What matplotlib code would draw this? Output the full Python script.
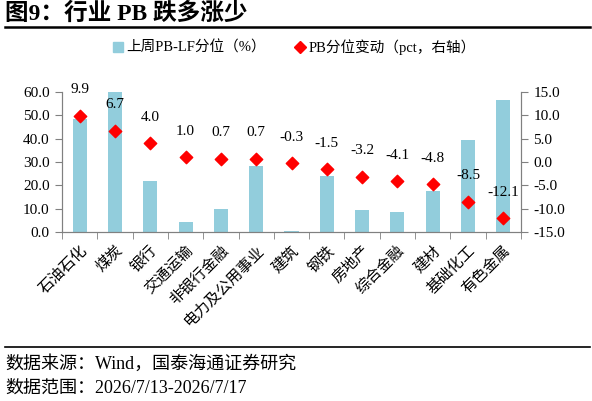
import matplotlib.pyplot as plt
from matplotlib.lines import Line2D
import numpy as np

plt.rcParams['font.family'] = ['Liberation Serif', 'Noto Sans CJK SC']

# Data
industries = ['石油石化', '煤炭', '银行', '交通运输', '非银行金融', '电力及公用事业', '建筑',
              '钢铁', '房地产', '综合金融', '建材', '基础化工', '有色金属']
pb_pct = [48.4, 60.0, 21.8, 4.4, 9.9, 28.5, 0.3, 24.2, 9.3, 8.7, 17.5, 39.4, 56.7]
pb_change = [9.9, 6.7, 4.0, 1.0, 0.7, 0.7, -0.3, -1.5, -3.2, -4.1, -4.8, -8.5, -12.1]

bar_color = '#92CDDC'
axis_color = '#808080'

fig = plt.figure(figsize=(5.92, 4.01), dpi=100)
ax = fig.add_axes([62 / 592, 1 - 232 / 401, (521 - 62) / 592, 140 / 401])
ax2 = ax.twinx()

x = np.arange(len(industries))
ax.bar(x, pb_pct, width=0.4, color=bar_color, zorder=2)
ax2.scatter(x, pb_change, marker='D', s=40, color='#FF0000', zorder=3)
for xi, v in zip(x, pb_change):
    ax2.annotate(f'{v:.1f}', (xi, v), xytext=(0, 14), textcoords='offset points',
                 ha='center', va='bottom', fontsize=11)

ax.set_xlim(-0.5, len(industries) - 0.5)
ax.set_ylim(0, 60)
ax.set_yticks(np.arange(0, 61, 10))
ax.set_yticklabels([f'{v:.1f}' for v in np.arange(0, 61, 10)], fontsize=11)
ax2.set_ylim(-15, 15)
ax2.set_yticks(np.arange(-15, 16, 5))
ax2.set_yticklabels([f'{v:.1f}' for v in np.arange(-15, 16, 5)], fontsize=11)

ax.set_xticks(x)
ax.set_xticklabels(industries, rotation=45, ha='right', rotation_mode='anchor', fontsize=11)
ax.tick_params(axis='x', length=0, pad=8)
ax.set_xticks(np.arange(-0.5, len(industries), 1), minor=True)
ax.tick_params(axis='x', which='minor', length=5, color=axis_color)
ax.tick_params(axis='y', length=5, color=axis_color, pad=4)
ax2.tick_params(axis='y', length=5, color=axis_color, pad=4)

for a in (ax, ax2):
    a.spines['top'].set_visible(False)
    for s in ('left', 'right', 'bottom'):
        a.spines[s].set_color(axis_color)

# Legend
handles = [Line2D([], [], marker='s', linestyle='', color=bar_color, markersize=7),
           Line2D([], [], marker='D', linestyle='', color='#FF0000', markersize=6)]
fig.legend(handles, ['上周PB-LF分位（%）', 'PB分位变动（pct，右轴）'], loc='center',
           bbox_to_anchor=(0.495, 1 - 47 / 401), ncol=2, frameon=False, fontsize=10.5,
           handletextpad=0.1, columnspacing=1.8, handlelength=1.0)

# Title and rules
fig.text(5 / 592, 1 - 14 / 401, '图9：行业 PB 跌多涨少', fontsize=17, fontweight='bold', va='center')
fig.add_artist(Line2D([5 / 592, 590 / 592], [1 - 27 / 401] * 2, color='black', lw=1.8))
fig.add_artist(Line2D([5 / 592, 590 / 592], [1 - 347 / 401] * 2, color='black', lw=1.2))
fig.text(5 / 592, 1 - 364 / 401, '数据来源：Wind，国泰海通证券研究', fontsize=13, va='center')
fig.text(5 / 592, 1 - 388 / 401, '数据范围：2026/7/13-2026/7/17', fontsize=13, va='center')

fig.savefig('out.png', dpi=100)
